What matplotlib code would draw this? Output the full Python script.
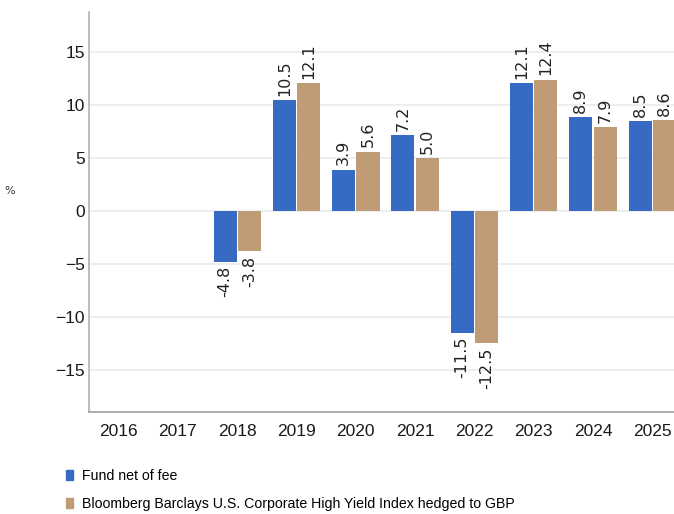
import numpy as np
import matplotlib.pyplot as plt
from matplotlib.patches import Patch

years = ['2016', '2017', '2018', '2019', '2020', '2021', '2022', '2023', '2024', '2025']
fund = [np.nan, np.nan, -4.8, 10.5, 3.9, 7.2, -11.5, 12.1, 8.9, 8.5]
index = [np.nan, np.nan, -3.8, 12.1, 5.6, 5.0, -12.5, 12.4, 7.9, 8.6]
series_names = ['Fund net of fee',
                'Bloomberg Barclays U.S. Corporate High Yield Index hedged to GBP']

blue = '#376BC3'
tan = '#BF9C76'
narrow = ['Liberation Sans', 'DejaVu Sans']

fig = plt.figure(figsize=(6.74, 5.14), dpi=100)
ax = fig.add_axes([89 / 674, 102 / 514, 600 / 674, 400 / 514])

x = np.arange(len(years))
w = 0.39
ax.bar(x - w / 2 - 0.01, fund, w, color=blue, zorder=3)
ax.bar(x + w / 2 + 0.01, index, w, color=tan, zorder=3)

# value labels, rotated
for xs, vals in [(x - w / 2 - 0.01, fund), (x + w / 2 + 0.01, index)]:
    for xi, v in zip(xs, vals):
        if np.isnan(v):
            continue
        if v >= 0:
            ax.text(xi, v + 0.4, '%.1f' % v, rotation=90, ha='center', va='bottom',
                    fontsize=11.5, color='#222222')
        else:
            ax.text(xi, v - 0.4, '%.1f' % v, rotation=90, ha='center', va='top',
                    fontsize=11.5, color='#222222')

ax.set_xlim(-0.5, 9.62)
ax.set_ylim(-19, 18.8)
ax.set_yticks([-15, -10, -5, 0, 5, 10, 15])
ax.set_yticklabels(['\u221215', '\u221210', '\u22125', '0', '5', '10', '15'],
                   family=narrow, fontsize=12.5)
ax.set_xticks(x)
ax.set_xticklabels(years, family=narrow, fontsize=12.5)
ax.tick_params(length=0, pad=9, colors='#1a1a1a')
ax.tick_params(axis='y', pad=3)

ax.grid(axis='y', color='#e8ecef', linewidth=1.2, zorder=0)
for s in ['top', 'right']:
    ax.spines[s].set_visible(False)
ax.spines['left'].set_color('#b0b0b0')
ax.spines['bottom'].set_color('#a0a0a0')
ax.spines['left'].set_linewidth(1.2)
ax.spines['bottom'].set_linewidth(1.2)

fig.text(10 / 674, 1 - 191 / 514, '%', fontsize=8, va='center', ha='center', color='#333333')

handles = [Patch(color=blue), Patch(color=tan)]
leg = fig.legend(handles, series_names, loc='upper left', bbox_to_anchor=(66 / 674, 1 - 469 / 514),
                 frameon=False, borderpad=0, borderaxespad=0,
                 handlelength=0.52, handleheight=0.8, handletextpad=0.6,
                 labelspacing=0.98, prop={'family': narrow, 'size': 10.2})

fig.savefig('out.png', dpi=100)
